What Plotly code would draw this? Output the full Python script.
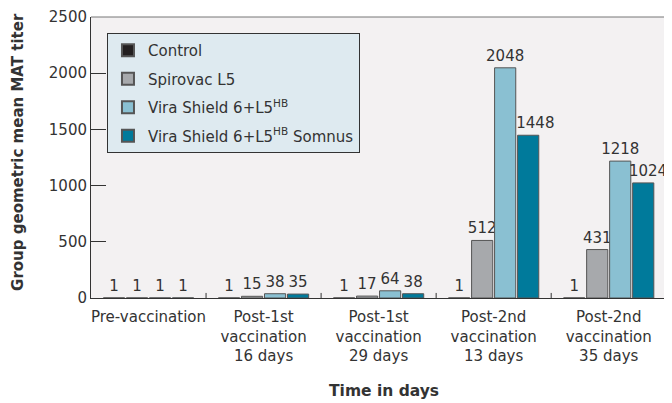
import plotly.graph_objects as go

categories = ["Pre-vaccination",
              "Post-1st<br>vaccination<br>16 days",
              "Post-1st<br>vaccination<br>29 days",
              "Post-2nd<br>vaccination<br>13 days",
              "Post-2nd<br>vaccination<br>35 days"]
series_names = ["Control", "Spirovac L5",
                "Vira Shield 6+L5<sup>HB</sup>",
                "Vira Shield 6+L5<sup>HB</sup> Somnus"]
control = [1, 1, 1, 1, 1]
spirovac = [1, 15, 17, 512, 431]
vira = [1, 38, 64, 2048, 1218]
somnus = [1, 35, 38, 1448, 1024]
colors = ["#231f20", "#a7a9ac", "#8ac0d2", "#007a9b"]
y_ticks = [0, 500, 1000, 1500, 2000, 2500]

FONT = "DejaVu Sans, sans-serif"
TXT = "#333333"
NB = "\u00a0"
# label nudge (non-breaking spaces) for the last series, per category
last_pad = [0, 0, 0, 3, 2]

fig = go.Figure()
all_vals = [control, spirovac, vira, somnus]
for i, (name, vals, col) in enumerate(zip(series_names, all_vals, colors)):
    if i == 3:
        labels = [NB * p + str(v) for p, v in zip(last_pad, vals)]
    else:
        labels = [str(v) for v in vals]
    fig.add_trace(go.Bar(
        x=list(range(len(categories))), y=vals, name=name, legendgroup=f"g{i}",
        marker=dict(color=col, line=dict(color="#555555", width=1)),
        text=labels, textposition="outside",
        textfont=dict(size=15, color=TXT, family=FONT), cliponaxis=False,
    ))

# page has an 8px body margin, so the figure is 8px smaller than the window
fig.update_layout(
    width=664, height=395,
    margin=dict(l=83, r=0, t=9, b=105, autoexpand=False),
    paper_bgcolor="white", plot_bgcolor="#f3f1f2",
    barmode="group", bargap=0.2, bargroupgap=0.08,
    font=dict(family=FONT, size=15, color=TXT),
    showlegend=True,
    legend=dict(x=0.0275, y=0.943, xanchor="left", yanchor="top",
                bgcolor="#deeaf0", bordercolor="#333333", borderwidth=1,
                font=dict(size=15, color=TXT, family=FONT),
                itemsizing="constant", tracegroupgap=6, traceorder="grouped",
                entrywidth=232),
    uniformtext=dict(minsize=15, mode="show"),
)
fig.update_xaxes(
    tickmode="array", tickvals=list(range(len(categories))), ticktext=categories,
    range=[-0.5, 4.55], showline=True, linecolor="#333333", linewidth=1,
    ticks="", showgrid=False, zeroline=False, automargin=False,
    ticklabelstandoff=5,
    tickfont=dict(size=15, color=TXT, family=FONT),
)
fig.update_yaxes(
    range=[0, 2500], tickvals=y_ticks, ticks="inside", ticklen=15,
    tickcolor="#333333", showline=True, linecolor="#333333", linewidth=1,
    showgrid=False, zeroline=False, automargin=False,
    tickfont=dict(size=15, color=TXT, family=FONT),
)
# axis titles
fig.add_annotation(text="<b>Time in days</b>", xref="paper", yref="paper",
                   x=0.505, y=-0.331, yanchor="middle", showarrow=False,
                   font=dict(size=15.5, color=TXT, family=FONT))
fig.add_annotation(text="<b>Group geometric mean MAT titer</b>", xref="paper", yref="paper",
                   x=-0.1256, y=0.52, xanchor="center", yanchor="middle", textangle=-90,
                   showarrow=False, font=dict(size=15, color=TXT, family=FONT))
# top border of plot area
fig.add_shape(type="line", xref="paper", yref="paper", x0=0, x1=1, y0=1, y1=1,
              line=dict(color="#777777", width=1))
# category separator ticks
for i in range(len(categories)):
    fig.add_shape(type="line", xref="x", yref="paper", x0=i + 0.5, x1=i + 0.5,
                  y0=0, y1=0.018, line=dict(color="#333333", width=1))

fig.write_html("out.html")
